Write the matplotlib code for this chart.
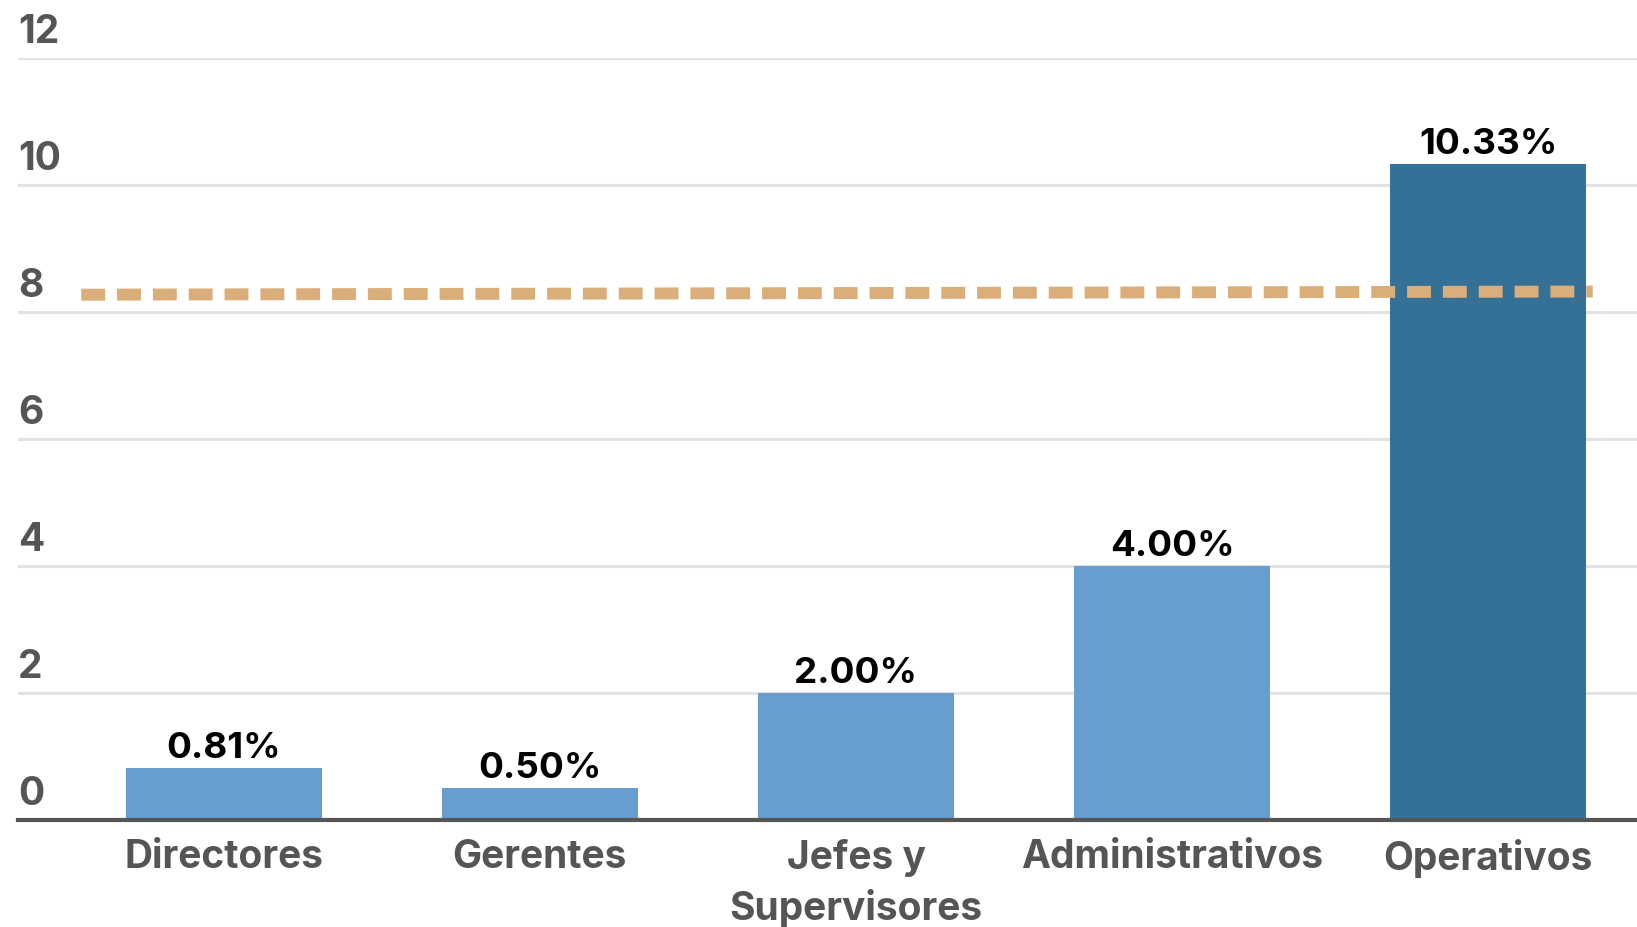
import matplotlib.pyplot as plt
from matplotlib.transforms import blended_transform_factory

# Datos de la gráfica
categorias = ["Directores", "Gerentes", "Jefes y\nSupervisores", "Administrativos", "Operativos"]
valores = [0.81, 0.50, 2.00, 4.00, 10.33]
colores = ["#679DCF", "#679DCF", "#679DCF", "#679DCF", "#357096"]
y_ticks = [0, 2, 4, 6, 8, 10, 12]
# Línea de referencia (promedio)
ref_x = [-0.45, 4.33]
ref_y = [8.27, 8.32]

plt.rcParams['font.family'] = ['Inter', 'DejaVu Sans']

fig = plt.figure(figsize=(16.37, 9.28), dpi=100)
ax = fig.add_axes([0.011, 0.1155, 0.989, 0.8211])

x = range(len(categorias))
ax.bar(x, valores, width=0.62, color=colores, zorder=2)

# Etiquetas de valor encima de cada barra
for i, v in enumerate(valores):
    ax.annotate(f"{v:.2f}%", (i, v), xytext=(0, 3), textcoords='offset points',
                ha='center', va='bottom', fontsize=26.5, fontweight='bold', color='black')

ax.plot(ref_x, ref_y, color='#D9AE7B', linewidth=8.6, dashes=(2, 1),
        dash_capstyle='butt', zorder=3)

ax.set_xlim(-0.65, 4.47)
ax.set_ylim(0, 12)

# Cuadrícula horizontal
ax.set_yticks(y_ticks)
ax.set_yticklabels([])
ax.tick_params(axis='y', length=0)
ax.yaxis.grid(True, color='#E3E3E3', linewidth=2.2, zorder=0)
ax.set_axisbelow(True)

# Etiquetas del eje y encima de cada línea
trans = blended_transform_factory(ax.transAxes, ax.transData)
for t in y_ticks:
    ax.annotate(str(t), (0, t), xycoords=trans, xytext=(0, 19), textcoords='offset points',
                ha='left', va='center', fontsize=28, fontweight='bold', color='#555555')

ax.set_xticks(list(x))
ax.set_xticklabels(categorias, fontsize=28, fontweight='bold', color='#555555', linespacing=1.4)
ax.tick_params(axis='x', length=0, pad=13)

for s in ['top', 'right', 'left']:
    ax.spines[s].set_visible(False)
ax.spines['bottom'].set_color('#555555')
ax.spines['bottom'].set_linewidth(3)
ax.spines['bottom'].set_zorder(4)

fig.savefig("out.png", dpi=100, facecolor='white')
